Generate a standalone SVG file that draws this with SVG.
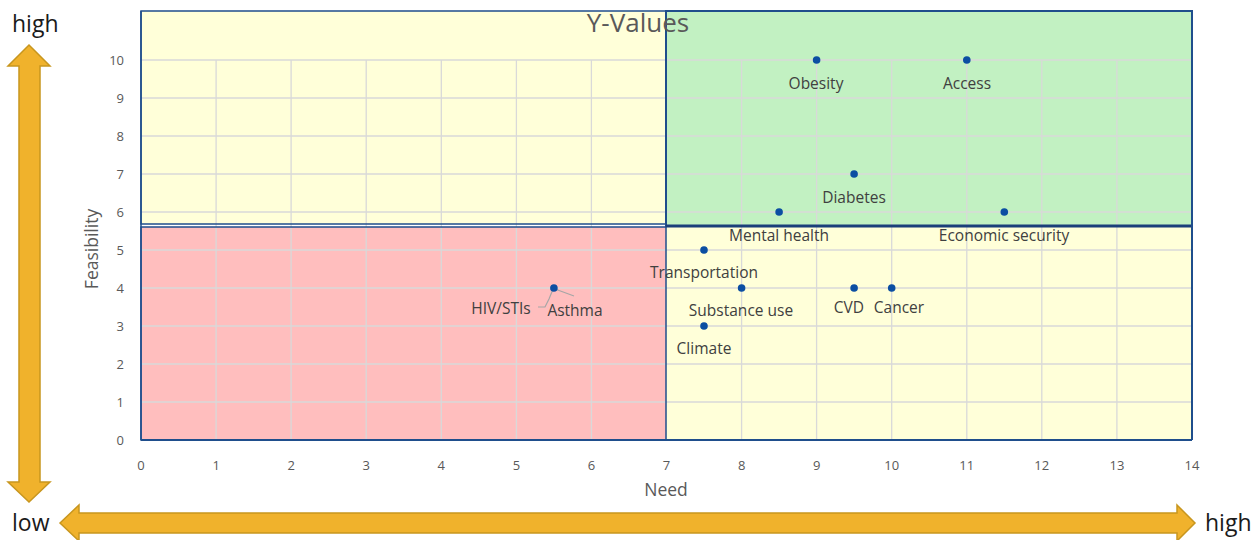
<svg xmlns="http://www.w3.org/2000/svg" width="1260" height="540" viewBox="0 0 1260 540">
<style>
.grid line{stroke:#D9D9D9;stroke-width:1.3}
.quad{stroke:none}
.border{fill:none;stroke:#1F4E8C}
.tick{font-family:"Open Sans","Liberation Sans",sans-serif;font-size:13px;fill:#595959}
.lbl{font-family:"Open Sans","Liberation Sans",sans-serif;font-size:15.5px;fill:#404040;text-anchor:middle}
.pt{fill:#0B4EA2}
.arrow{fill:#F0B22C;stroke:#C8961E;stroke-width:1.5}
.big{font-family:"Open Sans","Liberation Sans",sans-serif;font-size:23px;fill:#1A1A1A}
.axt{font-family:"Open Sans","Liberation Sans",sans-serif;font-size:17.5px;fill:#595959;text-anchor:middle}
.leader{stroke:#A6A6A6;stroke-width:1.2;fill:none}
</style>
<rect width="1260" height="540" fill="#FFFFFF"/>
<g id="quadrants">
<rect class="quad" x="141" y="11" width="525" height="213" fill="#FFFFD9"/>
<rect class="quad" x="141" y="227" width="525" height="213" fill="#FFBEBE"/>
<rect class="quad" x="666" y="11" width="526" height="215" fill="#C2F1C2"/>
<rect class="quad" x="666" y="226" width="526" height="214" fill="#FFFFD9"/>
</g>
<g id="grid" class="grid">
<line x1="216.1" y1="60" x2="216.1" y2="440"/>
<line x1="291.1" y1="60" x2="291.1" y2="440"/>
<line x1="366.2" y1="60" x2="366.2" y2="440"/>
<line x1="441.3" y1="60" x2="441.3" y2="440"/>
<line x1="516.4" y1="60" x2="516.4" y2="440"/>
<line x1="591.4" y1="60" x2="591.4" y2="440"/>
<line x1="741.6" y1="60" x2="741.6" y2="440"/>
<line x1="816.6" y1="60" x2="816.6" y2="440"/>
<line x1="891.7" y1="60" x2="891.7" y2="440"/>
<line x1="966.8" y1="60" x2="966.8" y2="440"/>
<line x1="1041.8" y1="60" x2="1041.8" y2="440"/>
<line x1="1116.9" y1="60" x2="1116.9" y2="440"/>
<line x1="141" y1="60" x2="1192" y2="60"/>
<line x1="141" y1="98" x2="1192" y2="98"/>
<line x1="141" y1="136" x2="1192" y2="136"/>
<line x1="141" y1="174" x2="1192" y2="174"/>
<line x1="141" y1="212" x2="1192" y2="212"/>
<line x1="141" y1="250" x2="1192" y2="250"/>
<line x1="141" y1="288" x2="1192" y2="288"/>
<line x1="141" y1="326" x2="1192" y2="326"/>
<line x1="141" y1="364" x2="1192" y2="364"/>
<line x1="141" y1="402" x2="1192" y2="402"/>
</g>
<g id="borders">
<rect class="border" x="141" y="11" width="525" height="213" stroke-width="1.5"/>
<rect class="border" x="141" y="227" width="525" height="213" stroke-width="1.5" stroke="#5A7FB0"/>
<rect class="border" x="666" y="11" width="526" height="215" stroke-width="2"/>
<line x1="666" y1="226" x2="1192" y2="226" stroke="#1A3F7A" stroke-width="3"/>
<line x1="141" y1="440" x2="1192" y2="440" stroke="#1F4E8C" stroke-width="2"/>
<line x1="1192" y1="11" x2="1192" y2="440" stroke="#1F4E8C" stroke-width="2"/>
<line x1="141" y1="11" x2="141" y2="440" stroke="#1F4E8C" stroke-width="1.5"/>
</g>
<g id="title">
<text x="638" y="32" font-family="'Open Sans','Liberation Sans',sans-serif" font-size="26" fill="#595959" text-anchor="middle">Y-Values</text>
</g>
<g id="y-ticks" class="tick" text-anchor="end">
<text x="124" y="65">10</text>
<text x="124" y="103">9</text>
<text x="124" y="141">8</text>
<text x="124" y="179">7</text>
<text x="124" y="217">6</text>
<text x="124" y="255">5</text>
<text x="124" y="293">4</text>
<text x="124" y="331">3</text>
<text x="124" y="369">2</text>
<text x="124" y="407">1</text>
<text x="124" y="445">0</text>
</g>
<g id="x-ticks" class="tick" text-anchor="middle">
<text x="141" y="470">0</text>
<text x="216.1" y="470">1</text>
<text x="291.1" y="470">2</text>
<text x="366.2" y="470">3</text>
<text x="441.3" y="470">4</text>
<text x="516.4" y="470">5</text>
<text x="591.4" y="470">6</text>
<text x="666.5" y="470">7</text>
<text x="741.6" y="470">8</text>
<text x="816.6" y="470">9</text>
<text x="891.7" y="470">10</text>
<text x="966.8" y="470">11</text>
<text x="1041.8" y="470">12</text>
<text x="1116.9" y="470">13</text>
<text x="1192" y="470">14</text>
</g>
<g id="axis-titles">
<text class="axt" x="666" y="496">Need</text>
<text class="axt" transform="translate(98,249) rotate(-90)">Feasibility</text>
</g>
<g id="connectors">
<polyline class="leader" points="553.5,288 549,299 545,307 538,307"/>
<line class="leader" x1="555" y1="289" x2="574" y2="296"/>
</g>
<g id="obesity"><circle class="pt" cx="816.6" cy="60" r="3.8"/><text class="lbl" x="816" y="89">Obesity</text></g>
<g id="access"><circle class="pt" cx="966.8" cy="60" r="3.8"/><text class="lbl" x="967" y="89">Access</text></g>
<g id="diabetes"><circle class="pt" cx="854.1" cy="174" r="3.8"/><text class="lbl" x="854" y="203">Diabetes</text></g>
<g id="mental-health"><circle class="pt" cx="779.1" cy="212" r="3.8"/><text class="lbl" x="779" y="241">Mental health</text></g>
<g id="economic-security"><circle class="pt" cx="1004.3" cy="212" r="3.8"/><text class="lbl" x="1004" y="241">Economic security</text></g>
<g id="transportation"><circle class="pt" cx="704" cy="250" r="3.8"/><text class="lbl" x="704" y="278">Transportation</text></g>
<g id="substance-use"><circle class="pt" cx="741.6" cy="288" r="3.8"/><text class="lbl" x="741" y="316">Substance use</text></g>
<g id="cvd"><circle class="pt" cx="854.1" cy="288" r="3.8"/><text class="lbl" x="849" y="313">CVD</text></g>
<g id="cancer"><circle class="pt" cx="891.7" cy="288" r="3.8"/><text class="lbl" x="899" y="313">Cancer</text></g>
<g id="climate"><circle class="pt" cx="704" cy="326" r="3.8"/><text class="lbl" x="704" y="354">Climate</text></g>
<g id="hiv-stis"><circle class="pt" cx="553.9" cy="288" r="3.8"/><text class="lbl" x="501" y="314">HIV/STIs</text></g>
<g id="asthma"><text class="lbl" x="575" y="316">Asthma</text></g>
<g id="vertical-arrow">
<polygon class="arrow" points="29,45 50,66 40,66 40,482 50,482 29,502 8,482 19,482 19,66 8,66"/>
</g>
<g id="horizontal-arrow">
<polygon class="arrow" points="60,523 79,505 79,513 1177,513 1177,505 1195,523 1177,541 1177,533 79,533 79,541"/>
</g>
<g id="labels">
<text class="big" x="12" y="32">high</text>
<text class="big" x="12" y="531">low</text>
<text class="big" x="1205" y="531">high</text>
</g>
</svg>
